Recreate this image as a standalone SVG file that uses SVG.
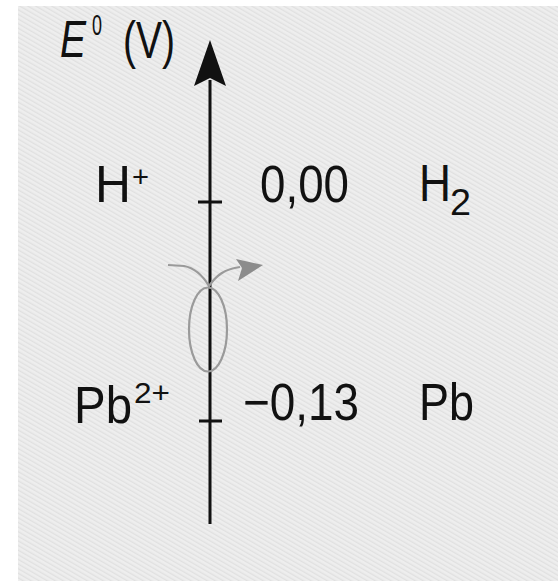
<svg xmlns="http://www.w3.org/2000/svg" width="558" height="581" viewBox="0 0 558 581">
<defs>
<pattern id="tex" width="4" height="4" patternUnits="userSpaceOnUse" patternTransform="rotate(-60)">
<rect width="4" height="4" fill="#eeeeee"/>
<rect width="1.3" height="4" fill="#e0e0e0"/>
</pattern>
</defs>
<style>
.lbl{font-family:"Liberation Sans",Arial,sans-serif;fill:#111;font-size:52px;}
.sup{font-size:29px;font-style:normal;}
.sub{font-size:37px;}
.axis{stroke:#111;stroke-width:3;fill:none;}
.tick{stroke:#111;stroke-width:3;}
.gray{stroke:#9a9a9a;stroke-width:2.2;fill:none;}
</style>
<rect x="0" y="0" width="558" height="581" fill="#ffffff"/>
<rect x="18" y="6" width="540" height="575" fill="url(#tex)"/>

<g id="connectors">
<line class="axis" x1="210" y1="80" x2="210" y2="524"/>
<path d="M210,40 L226,86 L210,78 L194,86 Z" fill="#111"/>
<line class="tick" x1="198" y1="202" x2="222" y2="202"/>
<line class="tick" x1="199" y1="421" x2="222" y2="421"/>
</g>

<g id="cycle">
<ellipse class="gray" cx="208" cy="329.5" rx="19" ry="42"/>
<path class="gray" d="M168,265 L184,266 C195,268 203,276 209,286 C216,276 224,269 240,267"/>
<path d="M236,259 L263,265 L238,281 L242,268 Z" fill="#8c8c8c"/>
</g>

<g id="axis-label">
<text class="lbl" y="57"><tspan x="60" font-style="italic" textLength="26" lengthAdjust="spacingAndGlyphs">E</tspan><tspan class="sup" x="92" y="35" textLength="10" lengthAdjust="spacingAndGlyphs">0</tspan><tspan x="123" y="58" textLength="52" lengthAdjust="spacingAndGlyphs">(V)</tspan></text>
</g>

<g id="node-h">
<text class="lbl" y="202"><tspan x="95" textLength="36" lengthAdjust="spacingAndGlyphs">H</tspan><tspan class="sup" x="132" y="187" textLength="17" lengthAdjust="spacingAndGlyphs">+</tspan></text>
<text class="lbl" x="260" y="202" textLength="89" lengthAdjust="spacingAndGlyphs">0,00</text>
<text class="lbl" y="201"><tspan x="419" textLength="32" lengthAdjust="spacingAndGlyphs">H</tspan><tspan class="sub" x="450" y="215" textLength="21" lengthAdjust="spacingAndGlyphs">2</tspan></text>
</g>

<g id="node-pb">
<text class="lbl" y="423"><tspan x="74" textLength="58" lengthAdjust="spacingAndGlyphs">Pb</tspan><tspan class="sup" x="134" y="403" textLength="36" lengthAdjust="spacingAndGlyphs">2+</tspan></text>
<text class="lbl" x="243" y="420" textLength="116" lengthAdjust="spacingAndGlyphs">−0,13</text>
<text class="lbl" x="419" y="420" textLength="55" lengthAdjust="spacingAndGlyphs">Pb</text>
</g>
</svg>
